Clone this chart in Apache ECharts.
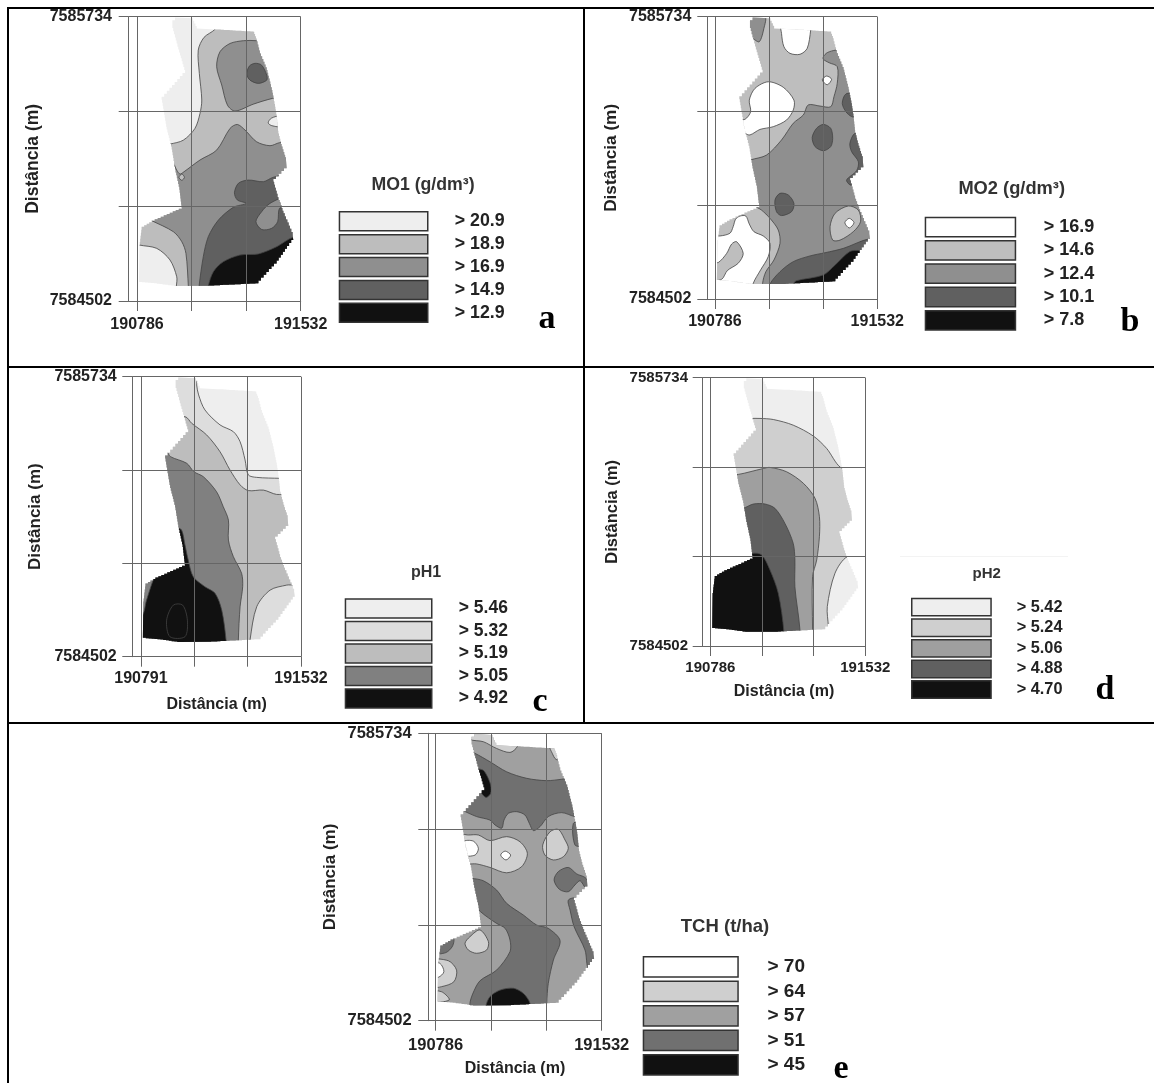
<!DOCTYPE html>
<html><head><meta charset="utf-8">
<style>html,body{margin:0;padding:0;background:#fff}#c{width:1154px;height:1083px}</style>
<script src="https://cdn.jsdelivr.net/npm/echarts@6/dist/echarts.min.js"></script>
</head><body><div id="c"></div>
<script>
// All map vertices are metres east / north of each map's lower-left corner (origin tick values).
const fieldOutline=[[161,1217],[173,1229],[249,1225],[272,1181],[355,1177],[530,1167],[542,1138],[560,1073],[591,1001],[614,914],[629,842],[636,799],[644,726],[659,669],[679,611],[682,575],[621,517],[644,438],[667,380],[709,286],[712,264],[636,163],[553,77],[325,66],[181,65],[90,77],[9,84],[11,243],[21,322],[67,348],[204,406],[193,495],[173,582],[158,669],[135,755],[112,885],[219,1001],[188,1102],[161,1196]];

const mo1Labels=['> 20.9','> 18.9','> 16.9','> 14.9','> 12.9'];
const mo2Labels=['> 16.9','> 14.6','> 12.4','> 10.1','> 7.8'];
const ph1Labels=['> 5.46','> 5.32','> 5.19','> 5.05','> 4.92'];
const ph2Labels=['> 5.42','> 5.24','> 5.06','> 4.88','> 4.70'];
const tchLabels=['> 70','> 64','> 57','> 51','> 45'];

const xTicks=[190786,191035,191283,191532];
const xTicksPh1=[190791,191038,191285,191532];
const yTicks=[7584502,7584913,7585323,7585734];

// [class index in the legend, polygon], in drawing order
const mo1Regions=[
[0,fieldOutline],
[1,[[378,1217],[355,1177],[305,1142],[279,1087],[284,986],[295,871],[287,813],[264,748],[211,697],[150,680],[90,669],[-17,380],[-47,322],[-47,261],[9,243],[90,228],[150,178],[181,105],[188,33],[743,33],[743,1217]]],
[0,[[652,800],[612,792],[598,772],[614,760],[659,757]]],
[2,[[363,1015],[378,1080],[424,1116],[485,1128],[545,1128],[682,1116],[682,885],[618,878],[530,853],[447,823],[412,849],[386,936]]],
[3,[[500,983],[512,1018],[538,1030],[568,1022],[591,979],[591,957],[553,943],[515,957]]],
[2,[[135,614],[163,601],[181,567],[196,550],[214,560],[287,611],[363,654],[424,748],[457,765],[492,741],[545,690],[606,673],[649,686],[743,697],[743,33],[234,33],[234,62],[223,206],[204,257],[166,300],[67,348],[29,365],[90,495]]],
[1,[[204,550],[216,536],[204,523],[191,536]]],
[3,[[444,469],[462,510],[507,524],[576,517],[621,536],[743,553],[743,33],[283,33],[283,65],[302,192],[325,279],[371,351],[439,406],[497,423],[457,438]]],
[2,[[682,452],[606,423],[568,387],[542,344],[568,310],[614,315],[641,344],[649,401],[682,409]]],
[4,[[325,66],[348,127],[393,170],[469,199],[553,204],[636,235],[712,276],[758,264],[758,33],[325,33]]]
];
const mo2Regions=[
[1,fieldOutline],
[0,[[302,1232],[306,1159],[317,1101],[345,1072],[391,1068],[424,1094],[440,1174],[444,1232]]],
[2,[[146,1232],[230,1232],[225,1181],[204,1123],[176,1137],[146,1174]]],
[0,[[158,868],[184,919],[245,948],[314,924],[363,868],[360,825],[329,781],[268,752],[207,740],[161,716],[138,723],[100,745],[100,781],[138,784],[164,817]]],
[2,[[498,1057],[516,1075],[556,1086],[651,1086],[804,723],[804,-4],[219,-4],[219,68],[234,119],[271,170],[299,243],[291,301],[253,352],[214,388],[146,432],[130,592],[164,607],[237,628],[306,694],[360,767],[406,803],[429,847],[483,842],[532,839],[547,883],[562,941],[562,1014],[525,1031],[498,1046]]],
[0,[[493,956],[513,973],[536,959],[516,935]]],
[3,[[585,854],[602,895],[651,890],[651,796],[628,796],[602,817]]],
[3,[[447,705],[467,745],[498,762],[532,745],[541,701],[532,665],[498,647],[460,665]]],
[3,[[643,723],[620,679],[628,643],[659,599],[651,560],[605,519],[628,497],[743,577],[697,723]]],
[3,[[276,432],[299,461],[337,454],[363,417],[352,381],[306,364],[283,381]]],
[1,[[529,316],[552,374],[613,406],[659,388],[669,337],[636,294],[575,257],[541,257]]],
[0,[[597,333],[617,352],[639,333],[617,310]]],
[0,[[95,348],[115,362],[142,362],[158,327],[179,294],[222,275],[253,243],[245,185],[210,127],[176,68],[161,-4],[-23,-4],[-23,275],[23,275],[69,287],[84,316]]],
[1,[[-23,156],[15,159],[54,199],[77,240],[100,250],[130,199],[107,156],[57,124],[31,86],[-23,83]]],
[3,[[253,65],[299,119],[360,163],[437,188],[506,202],[590,221],[709,263],[774,257],[774,-4],[237,-4]]],
[4,[[363,68],[375,80],[498,105],[552,148],[620,207],[666,211],[728,199],[728,-4],[363,-4]]]
];
const ph1Regions=[
[0,fieldOutline],
[1,[[258,1247],[258,1196],[267,1152],[296,1086],[366,1020],[428,990],[459,946],[482,866],[497,800],[536,789],[644,785],[736,785],[736,-15],[-66,-15],[-66,1247]]],
[2,[[204,1056],[235,1027],[304,976],[366,902],[412,822],[459,756],[497,731],[567,733],[628,714],[736,711],[736,323],[675,315],[598,293],[536,220],[505,73],[497,-15],[-66,-15],[-66,1056]]],
[3,[[73,910],[119,902],[137,880],[212,851],[245,814],[289,792],[350,726],[381,660],[405,601],[405,513],[428,440],[466,367],[471,308],[459,220],[451,73],[451,-15],[-66,-15],[-66,425],[57,910]]],
[4,[[161,572],[188,557],[204,491],[219,425],[242,352],[296,308],[343,279],[374,205],[394,73],[397,-15],[-66,-15],[-66,161],[3,176],[26,249],[54,330],[73,367],[119,425],[181,440],[150,572]]],
[4,[[119,161],[150,227],[193,227],[215,161],[204,88],[134,88]]]
];
const ph2Regions=[
[0,fieldOutline],
[1,[[191,1045],[239,1045],[303,1040],[399,1014],[496,964],[560,907],[627,820],[704,808],[752,410],[659,410],[600,334],[563,181],[568,89],[568,-64],[-98,-64],[-98,1045]]],
[2,[[63,785],[135,788],[191,800],[255,815],[287,820],[367,800],[448,747],[504,678],[525,594],[525,502],[512,395],[492,318],[492,77],[492,-64],[-98,-64],[-98,785]]],
[3,[[95,632],[156,632],[207,652],[263,652],[311,632],[359,563],[399,471],[407,395],[407,272],[431,77],[431,-64],[-98,-64],[-98,632]]],
[4,[[202,425],[247,418],[287,349],[327,242],[354,66],[354,-64],[-98,-64],[-98,364],[127,395]]]
];
const tchRegions=[
[2,fieldOutline],
[1,[[154,1232],[379,1232],[367,1175],[334,1150],[274,1167],[214,1196],[154,1206]]],
[1,[[514,1175],[524,1146],[541,1120],[574,1120],[574,1175]]],
[3,[[139,1160],[177,1146],[244,1110],[319,1067],[409,1039],[499,1029],[566,1035],[664,1046],[679,875],[626,875],[566,892],[506,875],[469,832],[439,815],[421,846],[401,882],[364,896],[327,889],[307,860],[297,825],[267,839],[244,860],[184,875],[117,903],[79,917],[94,1146]]],
[3,[[619,846],[626,753],[664,753],[664,846]]],
[4,[[169,1075],[211,1075],[229,1053],[247,1010],[247,975],[226,957],[199,982],[169,1003]]],
[1,[[109,796],[147,796],[192,796],[244,772],[319,789],[379,767],[412,717],[386,660],[319,634],[244,657],[184,672],[109,677]]],
[0,[[124,767],[169,770],[192,739],[177,710],[124,710]]],
[0,[[292,710],[312,727],[337,710],[316,689]]],
[1,[[481,753],[514,810],[551,820],[581,775],[596,739],[574,703],[529,689],[491,710]]],
[3,[[532,603],[551,639],[596,657],[634,629],[671,614],[694,582],[676,567],[649,600],[626,582],[596,553],[556,563]]],
[3,[[124,610],[162,610],[214,600],[274,560],[319,503],[394,453],[454,410],[506,396],[559,343],[529,260],[506,160],[499,74],[499,3],[154,3],[154,74],[166,114],[199,171],[274,217],[334,296],[334,346],[312,396],[274,417],[202,467],[124,546]]],
[1,[[132,332],[154,360],[199,389],[237,339],[229,303],[184,289],[147,303]]],
[3,[[-10,332],[79,353],[76,320],[46,292],[-10,289]]],
[1,[[-25,257],[57,257],[94,217],[82,167],[27,146],[-10,146]]],
[0,[[-25,246],[19,246],[37,210],[12,186],[-25,189]]],
[1,[[-25,124],[27,124],[61,89],[-25,81]]],
[3,[[596,517],[634,524],[664,417],[724,274],[686,224],[671,303],[622,403],[604,474]]],
[4,[[225,60],[244,103],[289,131],[349,139],[394,117],[424,74],[424,3],[225,3]]]
];

const FONT='"Liberation Sans",Arial,sans-serif';
const panels=[
{regions:mo1Regions,labels:mo1Labels,xt:xTicks,xmin:190748,colors:['#eeeeee','#bdbdbd','#8f8f8f','#606060','#111111'],
 rect:[128.7,300.7,16.7,301],lab:16,ym:16.7,xm:16,yName:[87,17.5],
 title:['MO1 (g/dm³)',423,184,17.7],letter:['a',547,330],leg:[338.7,211,88.3,19,2.4,454,17.8]},
{regions:mo2Regions,labels:mo2Labels,xt:xTicks,xmin:190751,colors:['#ffffff','#bebebe','#8f8f8f','#606060','#111111'],
 rect:[707.3,877.3,16.7,299],lab:16,ym:16,xm:15,yName:[88,17.2],
 title:['MO2 (g/dm³)',1011.7,188.3,18.3],letter:['b',1130,333],leg:[924.7,216.7,90,19.3,2.5,1043,18]},
{regions:ph1Regions,labels:ph1Labels,xt:xTicksPh1,xmin:190751,colors:['#eeeeee','#dddddd','#bdbdbd','#808080','#111111'],
 rect:[132.3,301,376.7,656.7],lab:16,ym:15.6,xm:14,yName:[88,17],xName:[40,16],
 title:['pH1',426,572,16],letter:['c',540,713],leg:[344.7,598.3,86.3,19,2,458,17.5]},
{regions:ph2Regions,labels:ph2Labels,xt:xTicks,xmin:190749,colors:['#eeeeee','#cfcfcf','#9f9f9f','#606060','#111111'],
 rect:[702.7,865.3,377.7,646],lab:15,ym:14.7,xm:14,yName:[82,16.5],xName:[38,16],
 title:['pH2',986.7,573.3,15],letter:['d',1105,701.7],leg:[911,597.7,79.3,17.4,1.7,1016,16.3]},
{regions:tchRegions,labels:tchLabels,xt:xTicks,xmin:190753,colors:['#ffffff','#cfcfcf','#a0a0a0','#707070','#111111'],
 rect:[428.3,601.7,733.3,1020.7],lab:16.5,ym:16.6,xm:16,yName:[89,17],xName:[40,16],
 title:['TCH (t/ha)',725,925.7,18.5],letter:['e',841,1080],leg:[642.7,956,94.6,20.2,2.8,766.7,19]}
];

const TEXT='#222';
function stair(points){
  const out=[];
  points.forEach((p,i)=>{
    const q=points[(i+1)%points.length];
    const dx=q[0]-p[0],dy=q[1]-p[1];
    out.push(p);
    if(Math.abs(dx)>1&&Math.abs(dy)>1){
      const n=Math.ceil(Math.max(Math.abs(dx),Math.abs(dy))/3.1);
      let y=p[1];
      for(let k=1;k<=n;k++){
        const x=p[0]+dx*k/n;
        out.push([x,y]);
        y=p[1]+dy*k/n;
        out.push([x,y]);
      }
    }
  });
  return out;
}

const option={animation:false,backgroundColor:'#fff',grid:[],xAxis:[],yAxis:[],legend:[],title:[],series:[],
 graphic:{elements:[
  {type:'rect',shape:{x:7,y:7,width:1147,height:2},style:{fill:'#000'}},
  {type:'rect',shape:{x:7,y:7,width:2,height:1076},style:{fill:'#000'}},
  {type:'rect',shape:{x:583,y:7,width:2,height:717},style:{fill:'#000'}},
  {type:'rect',shape:{x:7,y:366,width:1147,height:2},style:{fill:'#000'}},
  {type:'rect',shape:{x:7,y:722,width:1147,height:2},style:{fill:'#000'}},
  {type:'rect',shape:{x:900,y:556,width:168,height:1},style:{fill:'#f3f3f3'}}
 ]}};

panels.forEach((p,pi)=>{
  const [x0,x1,y0,y1]=p.rect;
  option.grid.push({left:x0,top:y0,width:x1-x0,height:y1-y0,containLabel:false});
  const originE=p.xt[0],originN=yTicks[0];
  const line={lineStyle:{color:'#666',width:1}};
  option.xAxis.push({type:'value',gridIndex:pi,min:p.xmin,max:p.xt[3],z:5,
    name:p.xName?'Distância (m)':'',nameLocation:'middle',nameGap:p.xName?p.xName[0]:0,
    nameTextStyle:{fontFamily:FONT,fontWeight:'bold',fontSize:p.xName?p.xName[1]:12,color:TEXT,verticalAlign:'top'},
    axisLine:{show:true,onZero:false,...line},
    axisTick:{show:true,length:10,customValues:p.xt,...line},
    axisLabel:{show:true,margin:p.xm,customValues:[p.xt[0],p.xt[3]],formatter:v=>String(v),fontFamily:FONT,fontWeight:'bold',fontSize:p.lab,color:TEXT},
    splitLine:{show:true,...line}});
  option.yAxis.push({type:'value',gridIndex:pi,min:yTicks[0],max:yTicks[3],z:5,
    name:'Distância (m)',nameLocation:'middle',nameGap:p.yName[0],
    nameTextStyle:{fontFamily:FONT,fontWeight:'bold',fontSize:p.yName[1],color:TEXT},
    axisLine:{show:true,onZero:false,...line},
    axisTick:{show:true,length:10,customValues:yTicks,...line},
    axisLabel:{show:true,margin:p.ym,customValues:[yTicks[0],yTicks[3]],formatter:v=>String(v),fontFamily:FONT,fontWeight:'bold',fontSize:p.lab,color:TEXT},
    splitLine:{show:true,...line}});
  const [t,tx,ty,ts]=p.title;
  option.title.push({text:t,left:tx,top:ty-ts*0.45,textAlign:'center',padding:0,textStyle:{fontFamily:FONT,fontWeight:'bold',fontSize:ts,color:'#333'}});
  const [lt,lx,lb]=p.letter;
  option.title.push({text:lt,left:lx,top:lb-30,textAlign:'center',padding:0,textStyle:{fontFamily:'"Liberation Serif",serif',fontWeight:'bold',fontSize:34,color:'#000',lineHeight:38}});
  const [gx,gy,gw,gh,gg,tx2,fs]=p.leg;
  option.legend.push({orient:'vertical',left:gx,top:gy,padding:0,itemWidth:gw,itemHeight:gh,itemGap:gg,selectedMode:false,icon:'rect',
    data:p.labels.map((n,k)=>({name:n,icon:'rect',itemStyle:{color:p.colors[k],borderColor:'#333',borderWidth:1.5}})),
    textStyle:{fontFamily:FONT,fontWeight:'bold',fontSize:fs,color:TEXT,lineHeight:gh-6,padding:[6,0,0,tx2-gx-gw-5]}});
  const clipFn=api=>stair(fieldOutline.map(q=>api.coord([originE+q[0],originN+q[1]])));
  p.labels.forEach((name,k)=>{
    const data=[];
    p.regions.forEach((r,i)=>{ if(r[0]===k) data.push([originE+r[1][0][0],originN+r[1][0][1],i]); });
    option.series.push({type:'custom',name,xAxisIndex:pi,yAxisIndex:pi,coordinateSystem:'cartesian2d',clip:false,silent:true,
      itemStyle:{color:p.colors[k]},data,encode:{x:0,y:1},
      renderItem(params,api){
        const idx=api.value(2);
        const r=p.regions[idx];
        const pts=r[1].map(q=>api.coord([originE+q[0],originN+q[1]]));
        const isField=r[1]===fieldOutline;
        const clip=clipFn(api);
        if(isField) return {type:'polygon',silent:true,z2:1,shape:{points:clip},style:{fill:p.colors[k]}};
        return {type:'polygon',silent:true,z2:10+idx,shape:{points:pts,smooth:0.3},
          style:{fill:p.colors[k],stroke:'#444',lineWidth:0.8},
          clipPath:{type:'polygon',shape:{points:clip}}};
      }});
  });
});
const chart=echarts.init(document.getElementById('c'),null,{renderer:'canvas'});
chart.setOption(option);
</script></body></html>
